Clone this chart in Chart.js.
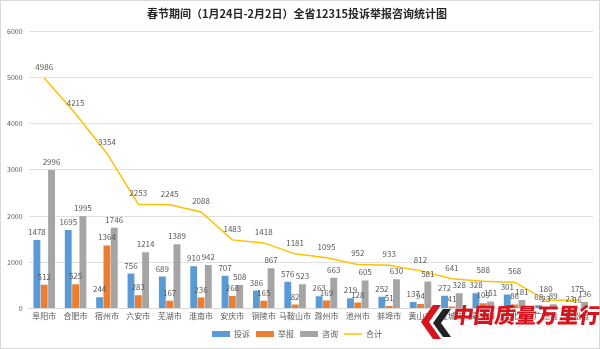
<!DOCTYPE html>
<html>
<head>
<meta charset="utf-8">
<script src="https://cdn.jsdelivr.net/npm/chart.js@4.4.0/dist/chart.umd.min.js"></script>
<style>
    html, body { margin: 0; padding: 0; background: #fff; }
    .graph_card { position: relative; width: 600px; height: 349px; box-sizing: border-box; border: 1px solid #d9d9d9; }
    #dashboardGraph { position: absolute; left: 0; top: 0; }
    .wm_text { position: absolute; left: 452px; top: 298px; font-family: "Noto Sans CJK SC", sans-serif; font-weight: 900; font-size: 21px; color: #d7141d; letter-spacing: 0px; transform: skewX(-8deg); white-space: nowrap; }
    .wm_logo { position: absolute; left: 418px; top: 304px; }
</style>
</head>
<body>
<div class="graph_card">
    <canvas id="dashboardGraph" width="598" height="347"></canvas>
    <svg class="wm_logo" width="36" height="34" viewBox="0 0 36 34">
        <polygon points="14,0 22,0 10,17 22,34 14,34 2,17" fill="#d7141d"></polygon>
        <polygon points="24,4 32,4 22,18 32,32 24,32 14,18" fill="#222"></polygon>
    </svg>
    <div class="wm_text">中国质量万里行</div>
</div>
<script>
(function () {
    "use strict";

    // data
    const cities = ["阜阳市", "合肥市", "宿州市", "六安市", "芜湖市", "淮南市", "安庆市", "铜陵市", "马鞍山市",
        "滁州市", "池州市", "蚌埠市", "黄山市", "宣城市", "亳州市", "淮北市", "广德县", "宿松县"];
    const complaint = [1478, 1695, 244, 756, 689, 910, 707, 386, 576, 263, 219, 252, 137, 272, 328, 301, 68, 23];
    const report = [512, 525, 1364, 283, 167, 236, 268, 165, 82, 169, 128, 51, 94, 41, 109, 86, 23, 16];
    const consult = [2996, 1995, 1746, 1214, 1389, 942, 508, 867, 523, 663, 605, 630, 581, 328, 151, 181, 89, 136];
    const total = [4986, 4215, 3354, 2253, 2245, 2088, 1483, 1418, 1181, 1095, 952, 933, 812, 641, 588, 568, 180, 175];
    const yTicks = [0, 1000, 2000, 3000, 4000, 5000, 6000];

    const fontFamily = "'Noto Sans CJK SC', 'Noto Sans', sans-serif";
    const labelColor = "#595959";

    // draws the value over each bar and each line point
    const valueLabels = {
        id: "valueLabels",
        afterDatasetsDraw(chart) {
            const ctx = chart.ctx;
            ctx.save();
            ctx.font = "8px " + fontFamily;
            ctx.fillStyle = labelColor;
            ctx.textAlign = "center";
            ctx.textBaseline = "middle";
            chart.data.datasets.forEach(function (ds, i) {
                const meta = chart.getDatasetMeta(i);
                const lift = ds.type === "line" ? 11 : 8;
                meta.data.forEach(function (el, j) {
                    ctx.fillText(ds.data[j], el.x, el.y - lift);
                });
            });
            ctx.restore();
        },
    };

    const data = {
        labels: cities,
        datasets: [
            {
                label: "投诉",
                data: complaint,
                backgroundColor: "#5b9bd5",
                pointStyle: "rect",
                order: 2,
            },
            {
                label: "举报",
                data: report,
                backgroundColor: "#ed7d31",
                pointStyle: "rect",
                order: 2,
            },
            {
                label: "咨询",
                data: consult,
                backgroundColor: "#a5a5a5",
                pointStyle: "rect",
                order: 2,
            },
            {
                type: "line",
                label: "合计",
                data: total,
                borderColor: "#ffc000",
                backgroundColor: "#ffc000",
                borderWidth: 1.5,
                pointRadius: 0,
                pointStyle: "line",
                tension: 0,
                order: 1,
            },
        ],
    };

    const config = {
        type: "bar",
        data: data,
        options: {
            responsive: false,
            animation: false,
            layout: { padding: { left: 0, right: 6, top: 4, bottom: 0 } },
            datasets: {
                bar: { categoryPercentage: 0.7, barPercentage: 0.94 },
            },
            plugins: {
                title: {
                    display: true,
                    text: "春节期间（1月24日-2月2日）全省12315投诉举报咨询统计图",
                    color: "#262626",
                    font: { family: fontFamily, size: 11, weight: "bold" },
                    padding: { top: 2, bottom: 11 },
                },
                legend: {
                    position: "bottom",
                    labels: {
                        usePointStyle: true,
                        pointStyleWidth: 18,
                        boxHeight: 6,
                        color: labelColor,
                        padding: 6,
                        font: { family: fontFamily, size: 8 },
                        sort: function (a, b) {
                            return a.datasetIndex - b.datasetIndex;
                        },
                    },
                },
                tooltip: { enabled: false },
            },
            scales: {
                x: {
                    grid: { display: false, drawTicks: false },
                    border: { color: "#d9d9d9" },
                    ticks: {
                        color: labelColor,
                        font: { family: fontFamily, size: 8 },
                        maxRotation: 0,
                        autoSkip: false,
                        padding: 3,
                    },
                },
                y: {
                    min: 0,
                    max: 6000,
                    afterBuildTicks: function (axis) {
                        axis.ticks = yTicks.map(function (v) {
                            return { value: v };
                        });
                    },
                    grid: { color: "#e0e0e0", drawTicks: false },
                    border: { display: false },
                    ticks: {
                        color: labelColor,
                        font: { family: fontFamily, size: 7 },
                        padding: 6,
                        callback: function (v) {
                            return String(v);
                        },
                    },
                },
            },
        },
        plugins: [valueLabels],
    };

    new Chart(document.getElementById("dashboardGraph"), config);
})();
</script>
</body>
</html>
